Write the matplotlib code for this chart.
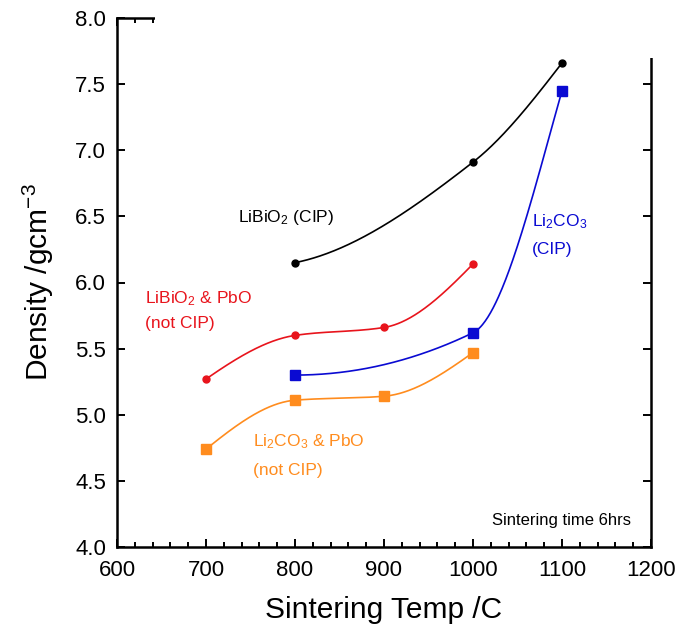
import matplotlib
matplotlib.use("Agg")
import matplotlib.pyplot as plt
import numpy as np
from matplotlib.patches import Rectangle
from matplotlib.ticker import MultipleLocator

plt.rcParams['font.family'] = ['Liberation Sans', 'DejaVu Sans']
plt.rcParams['mathtext.fontset'] = 'custom'
plt.rcParams['mathtext.rm'] = 'Liberation Sans'
plt.rcParams['mathtext.it'] = 'Liberation Sans'

# sintering temperature (C) and density (g/cm^3) for each batch
temp_libio2_cip = [800, 1000, 1100]
dens_libio2_cip = [6.15, 6.91, 7.66]

temp_libio2_pbo = [700, 800, 900, 1000]
dens_libio2_pbo = [5.27, 5.60, 5.66, 6.14]

temp_li2co3_cip = [800, 1000, 1100]
dens_li2co3_cip = [5.30, 5.62, 7.45]

temp_li2co3_pbo = [700, 800, 900, 1000]
dens_li2co3_pbo = [4.74, 5.11, 5.14, 5.47]

BLACK = '#000000'
RED = '#e8141c'
BLUE = '#0a0ad2'
ORANGE = '#ff8c1e'


def pchip(x, y, xs):
    # shape-preserving cubic through the measured points
    x = np.asarray(x, float)
    y = np.asarray(y, float)
    h = np.diff(x)
    d = np.diff(y) / h
    n = len(x)
    m = np.zeros(n)
    for k in range(1, n - 1):
        if d[k - 1] * d[k] > 0:
            w1 = 2 * h[k] + h[k - 1]
            w2 = h[k] + 2 * h[k - 1]
            m[k] = (w1 + w2) / (w1 / d[k - 1] + w2 / d[k])

    def end(h0, h1, d0, d1):
        s = ((2 * h0 + h1) * d0 - h0 * d1) / (h0 + h1)
        if np.sign(s) != np.sign(d0):
            return 0.0
        if np.sign(d0) != np.sign(d1) and abs(s) > abs(3 * d0):
            return 3 * d0
        return s

    m[0] = end(h[0], h[1], d[0], d[1])
    m[-1] = end(h[-1], h[-2], d[-1], d[-2])
    idx = np.clip(np.searchsorted(x, xs) - 1, 0, n - 2)
    t = (xs - x[idx]) / h[idx]
    h00 = 2 * t**3 - 3 * t**2 + 1
    h10 = t**3 - 2 * t**2 + t
    h01 = -2 * t**3 + 3 * t**2
    h11 = t**3 - t**2
    return (h00 * y[idx] + h10 * h[idx] * m[idx]
            + h01 * y[idx + 1] + h11 * h[idx] * m[idx + 1])


fig = plt.figure(figsize=(6.81, 6.35), dpi=100)
ax = fig.add_axes([117 / 681, 88 / 635, 534 / 681, 529 / 635])

series = [
    (temp_libio2_cip, dens_libio2_cip, BLACK, 'o', 5),
    (temp_libio2_pbo, dens_libio2_pbo, RED, 'o', 5),
    (temp_li2co3_cip, dens_li2co3_cip, BLUE, 's', 7),
    (temp_li2co3_pbo, dens_li2co3_pbo, ORANGE, 's', 7),
]
for xs, ys, c, mk, ms in series:
    xx = np.linspace(xs[0], xs[-1], 300)
    ax.plot(xx, pchip(xs, ys, xx), color=c, lw=1.2, zorder=2)
    ax.plot(xs, ys, ls='none', marker=mk, ms=ms, color=c, zorder=3)

ax.set_xlim(600, 1200)
ax.set_ylim(4.0, 8.0)
ax.xaxis.set_major_locator(MultipleLocator(100))
ax.xaxis.set_minor_locator(MultipleLocator(20))
ax.yaxis.set_major_locator(MultipleLocator(0.5))
ax.yaxis.set_major_formatter(plt.FormatStrFormatter('%.1f'))

for s in ax.spines.values():
    s.set_linewidth(1.8)
ax.tick_params(which='both', direction='in', top=True, right=True,
               width=1.4, labelsize=16)
ax.tick_params(which='major', length=6)
ax.tick_params(which='minor', length=3.5)
ax.tick_params(axis='x', pad=9)
ax.tick_params(axis='y', pad=8)

ax.set_xlabel('Sintering Temp /C', fontsize=21.5, labelpad=11)
ax.set_ylabel('Density /gcm$^{-3}$', fontsize=21.5, labelpad=14)

ax.text(736, 6.49, 'LiBiO$_2$ (CIP)', color=BLACK, fontsize=12.5, va='center')
ax.text(632, 5.88, 'LiBiO$_2$ & PbO', color=RED, fontsize=12.5, va='center')
ax.text(632, 5.69, '(not CIP)', color=RED, fontsize=12.5, va='center')
ax.text(753, 4.80, 'Li$_2$CO$_3$ & PbO', color=ORANGE, fontsize=12.5, va='center')
ax.text(753, 4.58, '(not CIP)', color=ORANGE, fontsize=12.5, va='center')
ax.text(1066, 6.46, 'Li$_2$CO$_3$', color=BLUE, fontsize=12.5, va='center')
ax.text(1066, 6.25, '(CIP)', color=BLUE, fontsize=12.5, va='center')
ax.text(1178, 4.2, 'Sintering time 6hrs', color=BLACK, fontsize=12,
        ha='right', va='center')

# blank strip over the upper frame edge
fig.add_artist(Rectangle((155 / 681, 1 - 58 / 635), 1, 1,
                         transform=fig.transFigure, facecolor='white',
                         edgecolor='none', zorder=10))

fig.savefig('out.png', dpi=100)
